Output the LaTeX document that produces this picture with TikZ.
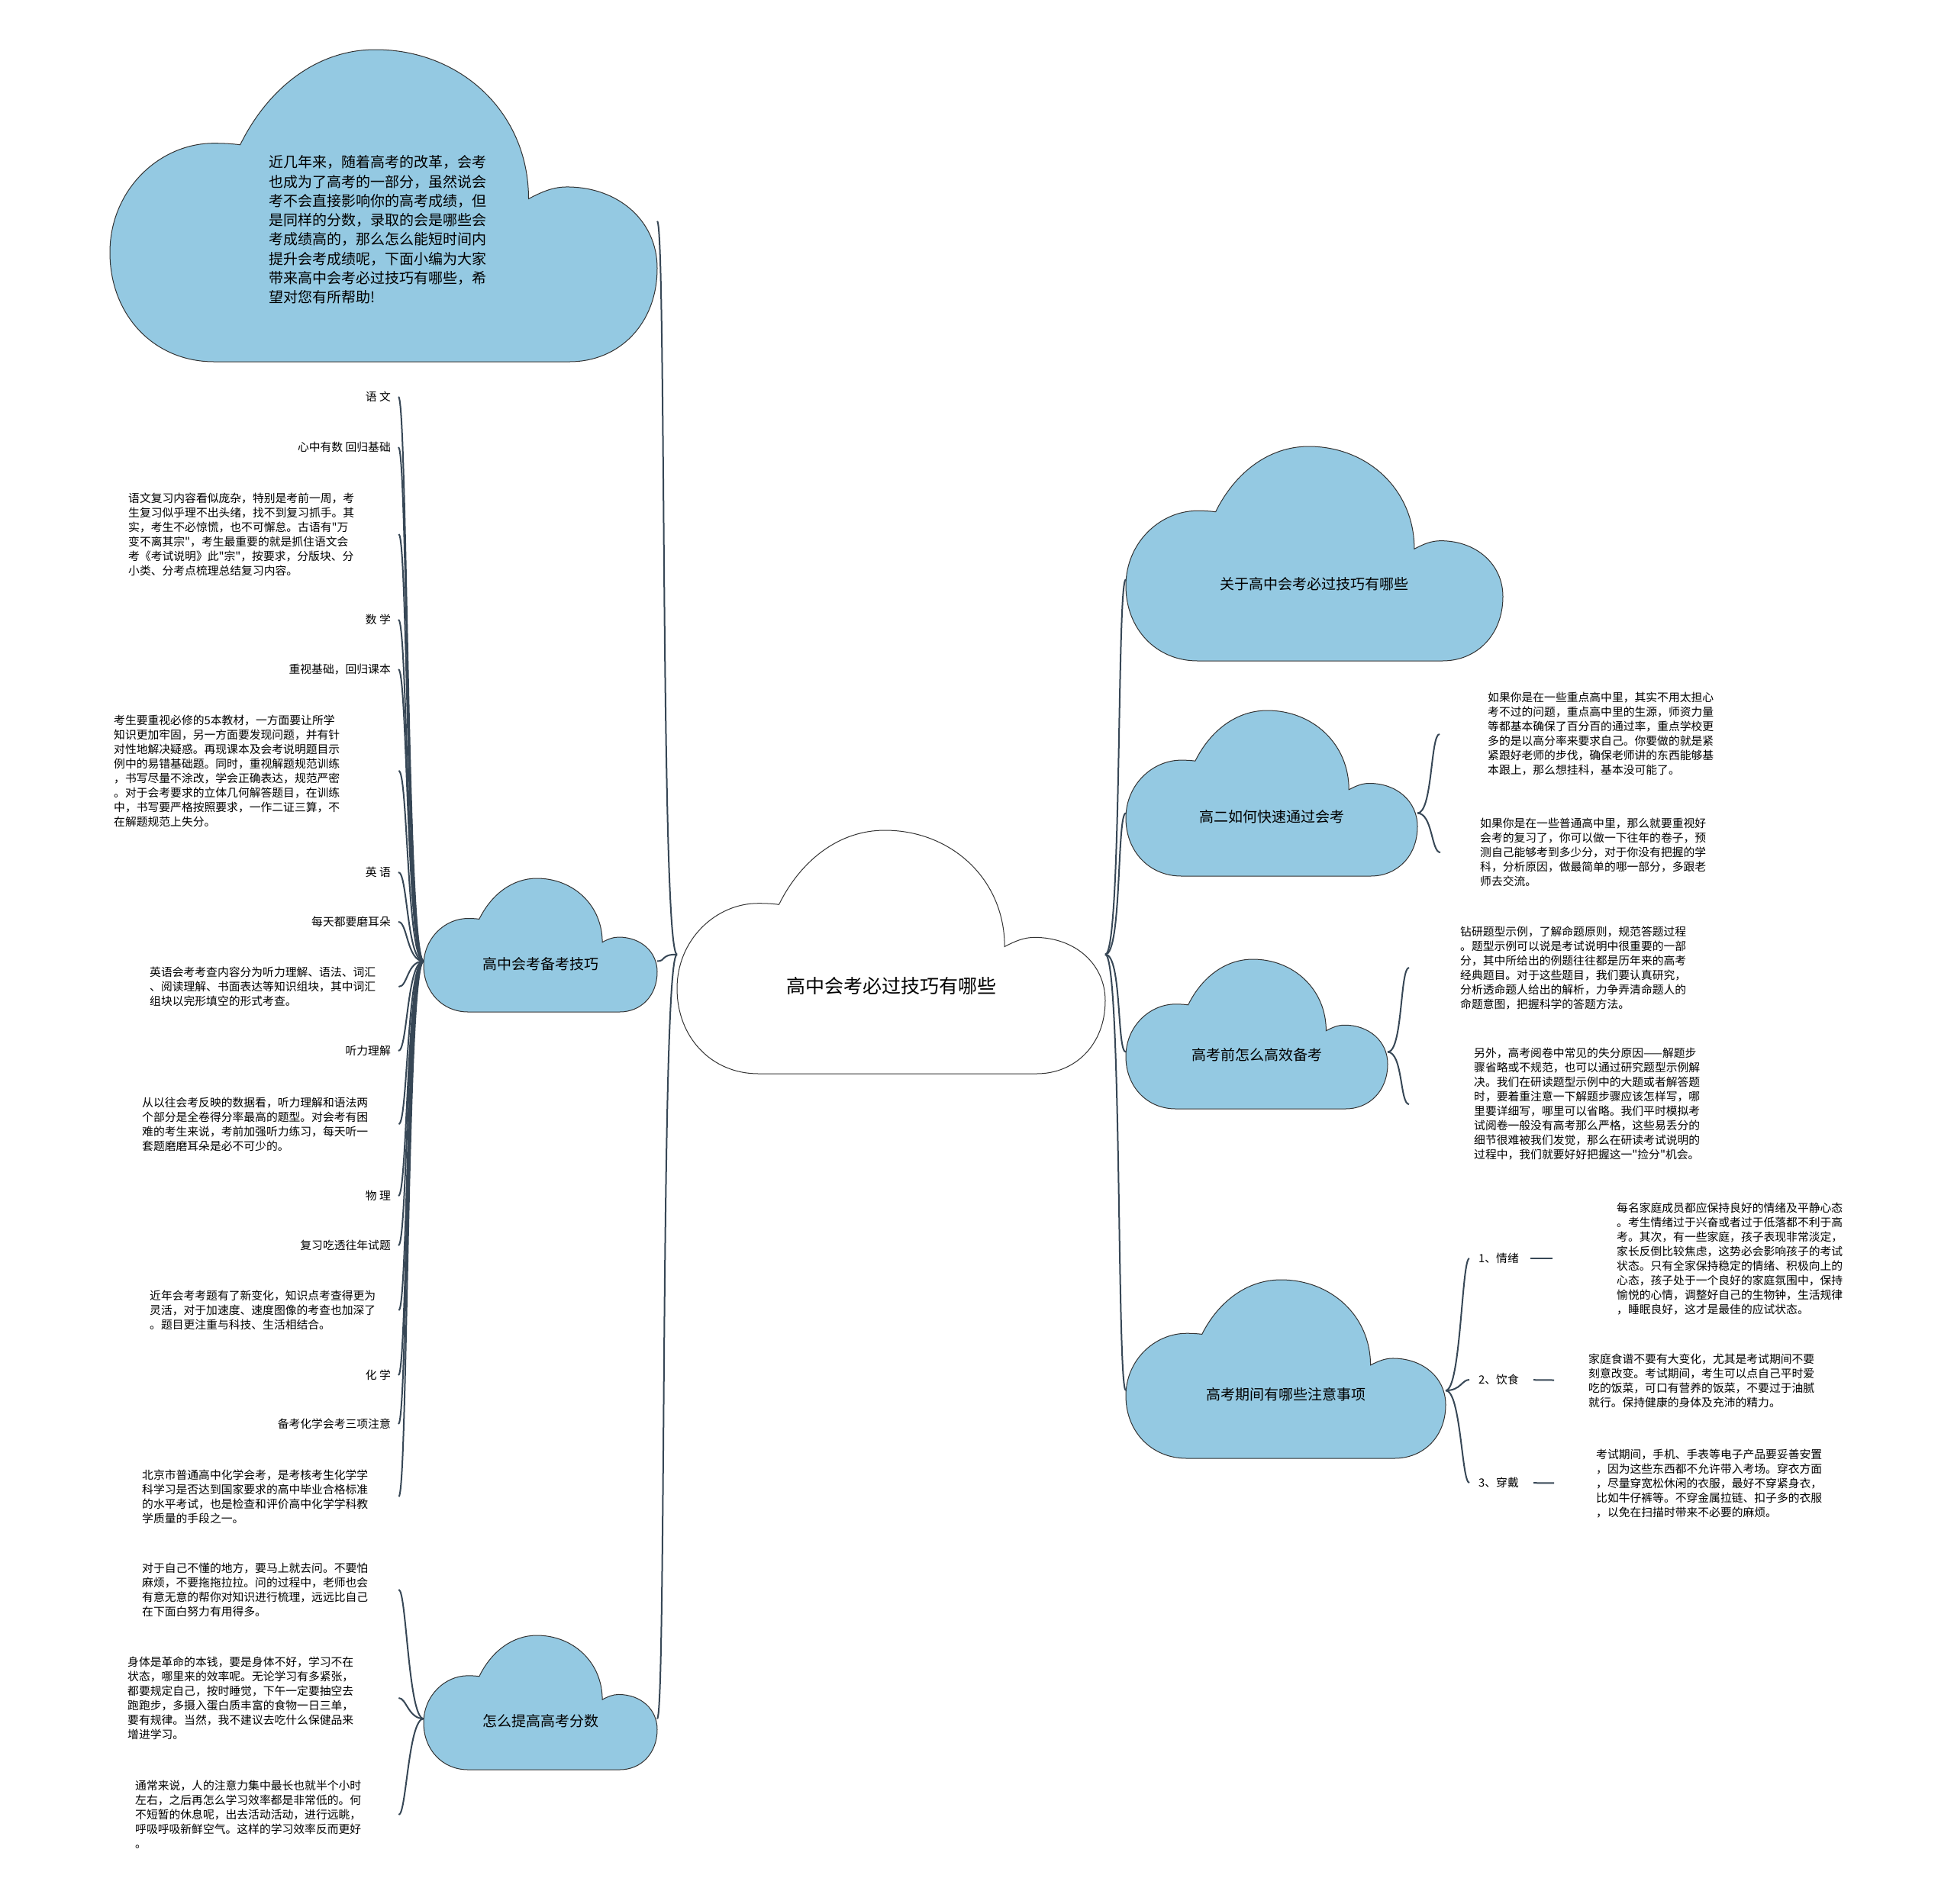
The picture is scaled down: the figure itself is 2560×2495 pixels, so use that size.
\documentclass[tikz,border=0pt]{standalone}
\usepackage{fontspec}
\newfontfamily\cjk{Noto Sans CJK SC}
\usepackage{tikz}
\usetikzlibrary{positioning}
\definecolor{cloudblue}{RGB}{148,201,226}
\definecolor{linkgray}{RGB}{55,71,86}

% cloud outline in a unit box: [anchor height]{name}{left}{top}{width}{height}{fill}
\newcommand\mmcloud[7][0.62]{%
  \begin{scope}[shift={(#3,#4)}, xscale=#5, yscale=#6]
    \path[cloudedge, fill=#7] (0.19,1) .. controls (0.08,1) and (0,0.85) .. (0,0.65)
      .. controls (0,0.45) and (0.09,0.30) .. (0.19,0.30)
      .. controls (0.21,0.30) and (0.225,0.302) .. (0.238,0.305)
      .. controls (0.29,0.12) and (0.38,0) .. (0.485,0)
      .. controls (0.64,0) and (0.765,0.2) .. (0.765,0.478)
      .. controls (0.79,0.455) and (0.81,0.44) .. (0.835,0.44)
      .. controls (0.93,0.44) and (1,0.55) .. (1,0.7)
      .. controls (1,0.88) and (0.93,1) .. (0.84,1) -- cycle;
    \coordinate (#2-w) at (0,#1);
    \coordinate (#2-e) at (1,#1);
    \coordinate (#2-c) at (0.5,0.64);
  \end{scope}}

\begin{document}
\begin{tikzpicture}[x=1pt, y=-1pt,
    link/.style={draw=linkgray, line width=2pt},
    cloudedge/.style={draw=black!80, line width=1pt},
    title/.style={font=\cjk\fontsize{25}{30}\selectfont, inner sep=2pt},
    topic/.style={font=\cjk\fontsize{19}{25.3}\selectfont, inner sep=2pt},
    leaf/.style={font=\cjk\fontsize{14.8}{19}\selectfont, inner sep=1pt},
    para/.style={leaf, align=left, anchor=west},
    lab/.style={leaf, inner xsep=10pt, anchor=east}]

    \path[use as bounding box, fill=white] (0,0) rectangle (2560,2495);

    % clouds
    \mmcloud[0.51]{root}{887}{1088}{561}{319}{white}
    \node[title] (main) at (root-c) {高中会考必过技巧有哪些};

    \mmcloud[0.55]{intro}{144}{65}{717}{409}{cloudblue}
    \node[topic, align=left, text width=290pt] (introtxt) at (497,301)
        {近几年来，随着高考的改革，会考\\也成为了高考的一部分，虽然说会\\考不会直接影响你的高考成绩，但\\是同样的分数，录取的会是哪些会\\考成绩高的，那么怎么能短时间内\\提升会考成绩呢，下面小编为大家\\带来高中会考必过技巧有哪些，希\\望对您有所帮助!};

    \mmcloud{prep}{555}{1151}{306}{175}{cloudblue}
    \node[topic] (preptxt) at (prep-c) {高中会考备考技巧};
    \mmcloud{score}{555}{2143}{306}{176}{cloudblue}
    \node[topic] (scoretxt) at (score-c) {怎么提高高考分数};

    \mmcloud{about}{1475}{585}{494}{281}{cloudblue}
    \node[topic] (abouttxt) at (about-c) {关于高中会考必过技巧有哪些};
    \mmcloud{g2}{1475}{931}{382}{217}{cloudblue}
    \node[topic] (g2txt) at (g2-c) {高二如何快速通过会考};
    \mmcloud{before}{1475}{1257}{343}{196}{cloudblue}
    \node[topic] (beforetxt) at (before-c) {高考前怎么高效备考};
    \mmcloud{during}{1475}{1677}{419}{234}{cloudblue}
    \node[topic] (duringtxt) at (during-c) {高考期间有哪些注意事项};

    % left column
    \node[lab] (yw) at (522,520) {语 文};
    \node[lab, below=66pt of yw.east, anchor=east] (ywsub) {心中有数 回归基础};
    \node[para, text width=353pt] (ywtxt) at (167,700)
        {语文复习内容看似庞杂，特别是考前一周，考\\生复习似乎理不出头绪，找不到复习抓手。其\\实，考生不必惊慌，也不可懈怠。古语有"万\\变不离其宗"，考生最重要的就是抓住语文会\\考《考试说明》此"宗"，按要求，分版块、分\\小类、分考点梳理总结复习内容。};

    \node[lab] (sx) at (522,812) {数 学};
    \node[lab, below=65pt of sx.east, anchor=east] (sxsub) {重视基础，回归课本};
    \node[para, text width=372pt] (sxtxt) at (148,1010)
        {考生要重视必修的5本教材，一方面要让所学\\知识更加牢固，另一方面要发现问题，并有针\\对性地解决疑惑。再现课本及会考说明题目示\\例中的易错基础题。同时，重视解题规范训练\\，书写尽量不涂改，学会正确表达，规范严密\\。对于会考要求的立体几何解答题目，在训练\\中，书写要严格按照要求，一作二证三算，不\\在解题规范上失分。};

    \node[lab] (yy) at (522,1143) {英 语};
    \node[lab, below=65pt of yy.east, anchor=east] (yysub) {每天都要磨耳朵};
    \node[para, text width=325pt] (yytxt) at (195,1293)
        {英语会考考查内容分为听力理解、语法、词汇\\、阅读理解、书面表达等知识组块，其中词汇\\组块以完形填空的形式考查。};
    \node[lab] (tl) at (522,1377) {听力理解};
    \node[para, text width=335pt] (tltxt) at (185,1473)
        {从以往会考反映的数据看，听力理解和语法两\\个部分是全卷得分率最高的题型。对会考有困\\难的考生来说，考前加强听力练习，每天听一\\套题磨磨耳朵是必不可少的。};

    \node[lab] (wl) at (522,1567) {物 理};
    \node[lab, below=65pt of wl.east, anchor=east] (wlsub) {复习吃透往年试题};
    \node[para, text width=325pt] (wltxt) at (195,1717)
        {近年会考考题有了新变化，知识点考查得更为\\灵活，对于加速度、速度图像的考查也加深了\\。题目更注重与科技、生活相结合。};

    \node[lab] (hx) at (522,1802) {化 学};
    \node[lab, below=64pt of hx.east, anchor=east] (hxsub) {备考化学会考三项注意};
    \node[para, text width=335pt] (hxtxt) at (185,1961)
        {北京市普通高中化学会考，是考核考生化学学\\科学习是否达到国家要求的高中毕业合格标准\\的水平考试，也是检查和评价高中化学学科教\\学质量的手段之一。};

    \node[para, text width=335pt] (s1) at (185,2083)
        {对于自己不懂的地方，要马上就去问。不要怕\\麻烦，不要拖拖拉拉。问的过程中，老师也会\\有意无意的帮你对知识进行梳理，远远比自己\\在下面白努力有用得多。};
    \node[para, text width=354pt] (s2) at (166,2225)
        {身体是革命的本钱，要是身体不好，学习不在\\状态，哪里来的效率呢。无论学习有多紧张，\\都要规定自己，按时睡觉，下午一定要抽空去\\跑跑步，多摄入蛋白质丰富的食物一日三单，\\要有规律。当然，我不建议去吃什么保健品来\\增进学习。};
    \node[para, text width=344pt] (s3) at (176,2378)
        {通常来说，人的注意力集中最长也就半个小时\\左右，之后再怎么学习效率都是非常低的。何\\不短暂的休息呢，出去活动活动，进行远眺，\\呼吸呼吸新鲜空气。这样的学习效率反而更好\\。};

    % right column
    \node[para, text width=300pt] (gp1) at (1948,962)
        {如果你是在一些重点高中里，其实不用太担心\\考不过的问题，重点高中里的生源，师资力量\\等都基本确保了百分百的通过率，重点学校更\\多的是以高分率来要求自己。你要做的就是紧\\紧跟好老师的步伐，确保老师讲的东西能够基\\本跟上，那么想挂科，基本没可能了。};
    \node[para, text width=300pt] (gp2) at (1938,1117)
        {如果你是在一些普通高中里，那么就要重视好\\会考的复习了，你可以做一下往年的卷子，预\\测自己能够考到多少分，对于你没有把握的学\\科，分析原因，做最简单的哪一部分，多跟老\\师去交流。};
    \node[para, text width=300pt] (bp1) at (1912,1268)
        {钻研题型示例，了解命题原则，规范答题过程\\。题型示例可以说是考试说明中很重要的一部\\分，其中所给出的例题往往都是历年来的高考\\经典题目。对于这些题目，我们要认真研究，\\分析透命题人给出的解析，力争弄清命题人的\\命题意图，把握科学的答题方法。};
    \node[para, text width=300pt] (bp2) at (1930,1447)
        {另外，高考阅卷中常见的失分原因——解题步\\骤省略或不规范，也可以通过研究题型示例解\\决。我们在研读题型示例中的大题或者解答题\\时，要着重注意一下解题步骤应该怎样写，哪\\里要详细写，哪里可以省略。我们平时模拟考\\试阅卷一般没有高考那么严格，这些易丢分的\\细节很难被我们发觉，那么在研读考试说明的\\过程中，我们就要好好把握这一"捡分"机会。};

    \node[leaf, anchor=west] (emo) at (1936,1649) {1、情绪};
    \node[leaf, anchor=west] (food) at (1936,1808) {2、饮食};
    \node[leaf, anchor=west] (wear) at (1936,1943) {3、穿戴};
    \node[para, text width=300pt] (emop) at (2117,1649)
        {每名家庭成员都应保持良好的情绪及平静心态\\。考生情绪过于兴奋或者过于低落都不利于高\\考。其次，有一些家庭，孩子表现非常淡定，\\家长反倒比较焦虑，这势必会影响孩子的考试\\状态。只有全家保持稳定的情绪、积极向上的\\心态，孩子处于一个良好的家庭氛围中，保持\\愉悦的心情，调整好自己的生物钟，生活规律\\，睡眠良好，这才是最佳的应试状态。};
    \node[para, text width=300pt] (foodp) at (2080,1809)
        {家庭食谱不要有大变化，尤其是考试期间不要\\刻意改变。考试期间，考生可以点自己平时爱\\吃的饭菜，可口有营养的饭菜，不要过于油腻\\就行。保持健康的身体及充沛的精力。};
    \node[para, text width=300pt] (wearp) at (2090,1944)
        {考试期间，手机、手表等电子产品要妥善安置\\，因为这些东西都不允许带入考场。穿衣方面\\，尽量穿宽松休闲的衣服，最好不穿紧身衣，\\比如牛仔裤等。不穿金属拉链、扣子多的衣服\\，以免在扫描时带来不必要的麻烦。};

    % connectors
    \foreach \t in {intro,prep,score}
        \draw[link] (root-w) .. controls +(-22,0) and +(12,0) .. (\t-e);
    \foreach \t in {about,g2,before,during}
        \draw[link] (root-e) .. controls +(22,0) and +(-12,0) .. (\t-w);
    \foreach \t in {yw,ywsub,ywtxt,sx,sxsub,sxtxt,yy,yysub,yytxt,tl,tltxt,wl,wlsub,wltxt,hx,hxsub,hxtxt}
        \draw[link] (prep-w) .. controls +(-22,0) and +(12,0) .. (\t.east);
    \foreach \t in {s1,s2,s3}
        \draw[link] (score-w) .. controls +(-20,0) and +(10,0) .. (\t.east);

    \draw[link] (g2-e) .. controls +(20,0) and +(-12,0) .. ([xshift=-62pt]gp1.west);
    \draw[link] (g2-e) .. controls +(20,0) and +(-12,0) .. ([xshift=-51pt]gp2.west);
    \draw[link] (before-e) .. controls +(20,0) and +(-12,0) .. ([xshift=-66pt]bp1.west);
    \draw[link] (before-e) .. controls +(20,0) and +(-12,0) .. ([xshift=-84pt]bp2.west);
    \foreach \t in {emo,food,wear}
        \draw[link] (during-e) .. controls +(20,0) and +(-10,0) .. ([xshift=-11pt]\t.west);

    \draw[link, shorten <=14pt, shorten >=83pt] (emo.east) -- (emop.west);
    \draw[link, shorten <=18pt, shorten >=44pt] (food.east) -- (foodp.west);
    \draw[link, shorten <=18pt, shorten >=54pt] (wear.east) -- (wearp.west);

\end{tikzpicture}
\end{document}
